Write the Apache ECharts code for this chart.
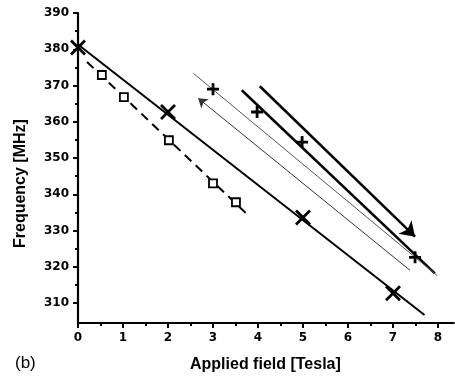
<!DOCTYPE html>
<html>
<head>
<meta charset="utf-8">
<script src="https://cdn.jsdelivr.net/npm/echarts@6/dist/echarts.min.js"></script>
<style>html,body{margin:0;padding:0;background:#fff;}#c{width:455px;height:379px;}</style>
</head>
<body>
<div id="c"></div>
<script>
// ---- data ----
var crossPoints  = [[0, 380.5], [2, 362.7], [5, 333.6], [7, 312.7]];
var crossFit     = [[0, 381.3], [7.7, 306.7]];
var squarePoints = [[0.53, 372.9], [1.02, 366.8], [2.02, 354.9], [3.0, 343.0], [3.51, 337.8]];
var squareFit    = [[0.2, 376.5], [3.8, 334.0]];
var plusPoints   = [[3.0, 369.0], [3.98, 362.7], [4.98, 354.4], [7.49, 322.6]];
var thickLineA   = [[3.64, 368.7], [7.93, 318.2]];
var thickArrowB  = [[4.04, 369.8], [7.49, 328.3]];
var thinLine1    = [[2.56, 373.4], [7.98, 317.6]];
var thinArrow2   = [[7.38, 319.0], [2.67, 366.5]];
var xTicks       = [0, 1, 2, 3, 4, 5, 6, 7, 8];
var xMinorTicks  = [0.5, 1.5, 2.5, 3.5, 4.5, 5.5, 6.5, 7.5];
var yTicks       = [310, 320, 330, 340, 350, 360, 370, 380, 390];
var yMinorTicks  = [315, 325, 335, 345, 355, 365, 375, 385];
var xTitle = 'Applied field [Tesla]';
var yTitle = 'Frequency [MHz]';
var panelLabel = '(b)';

var chart = echarts.init(document.getElementById('c'));
var tickFont = {color: '#000', fontFamily: 'DejaVu Sans', fontWeight: 'bold', fontSize: 12};
var xMin = 0, xMax = 8.35, yMin = 304.5, yMax = 390;

var option = {
  animation: false,
  backgroundColor: '#fff',
  grid: {left: 78, right: 1.25, top: 13, bottom: 56},
  xAxis: [{
    type: 'value', min: xMin, max: xMax, position: 'bottom',
    axisLine: {show: true, lineStyle: {color: '#000', width: 2.2}},
    axisTick: {show: true, customValues: xTicks, length: 5, lineStyle: {color: '#000', width: 2}},
    axisLabel: Object.assign({customValues: xTicks, margin: 9}, tickFont),
    splitLine: {show: false}
  }, {
    type: 'value', min: xMin, max: xMax, position: 'bottom',
    axisLine: {show: false},
    axisTick: {show: true, customValues: xMinorTicks, length: 3, lineStyle: {color: '#000', width: 2}},
    axisLabel: {show: false},
    splitLine: {show: false}
  }],
  yAxis: [{
    type: 'value', min: yMin, max: yMax, position: 'left',
    axisLine: {show: true, lineStyle: {color: '#000', width: 2.2}},
    axisTick: {show: true, customValues: yTicks, length: 5, lineStyle: {color: '#000', width: 2}},
    axisLabel: Object.assign({customValues: yTicks, margin: 9}, tickFont),
    splitLine: {show: false}
  }, {
    type: 'value', min: yMin, max: yMax, position: 'left',
    axisLine: {show: false},
    axisTick: {show: true, customValues: yMinorTicks, length: 3, lineStyle: {color: '#000', width: 2}},
    axisLabel: {show: false},
    splitLine: {show: false}
  }],
  graphic: [
    {type: 'text', left: 190, top: 357, style: {text: xTitle, fill: '#000', font: 'bold 16px "Liberation Sans", Arial'}},
    {type: 'text', x: 13, y: 248, rotation: Math.PI / 2, originX: 0, originY: 0,
     style: {text: yTitle, fill: '#000', font: 'bold 16px "Liberation Sans", Arial'}},
    {type: 'text', left: 15, top: 355, style: {text: panelLabel, fill: '#000', font: '17px "Liberation Sans", Arial'}}
  ],
  series: [
    {type: 'line', data: crossFit, symbol: 'none', lineStyle: {color: '#000', width: 2}, z: 2},
    {type: 'line', data: squareFit, symbol: 'none', lineStyle: {color: '#000', width: 2, type: [9, 6]}, z: 2},
    {type: 'line', data: thickLineA, symbol: 'none', lineStyle: {color: '#000', width: 2.5}, z: 2},
    {type: 'line', data: thinLine1, symbol: 'none', lineStyle: {color: '#555', width: 1}, z: 2},
    {type: 'lines', coordinateSystem: 'cartesian2d', symbol: ['none', 'arrow'], symbolSize: [11, 14],
     lineStyle: {color: '#000', width: 2.5, opacity: 1}, data: [{coords: thickArrowB}], z: 3},
    {type: 'lines', coordinateSystem: 'cartesian2d', symbol: ['none', 'arrow'], symbolSize: [7, 9],
     lineStyle: {color: '#333', width: 1, opacity: 1}, data: [{coords: thinArrow2}], z: 3},
    {type: 'scatter', data: crossPoints, symbol: 'path://M0,0L10,10M10,0L0,10', symbolSize: 14,
     itemStyle: {color: 'transparent', borderColor: '#000', borderWidth: 2.8, opacity: 1}, z: 5},
    {type: 'scatter', data: squarePoints, symbol: 'rect', symbolSize: 8,
     itemStyle: {color: '#fff', borderColor: '#000', borderWidth: 1.8, opacity: 1}, z: 5},
    {type: 'scatter', data: plusPoints, symbol: 'path://M5,0L5,10M0,5L10,5', symbolSize: 12,
     itemStyle: {color: 'transparent', borderColor: '#000', borderWidth: 2.8, opacity: 1}, z: 5}
  ]
};
chart.setOption(option);
</script>
</body>
</html>
